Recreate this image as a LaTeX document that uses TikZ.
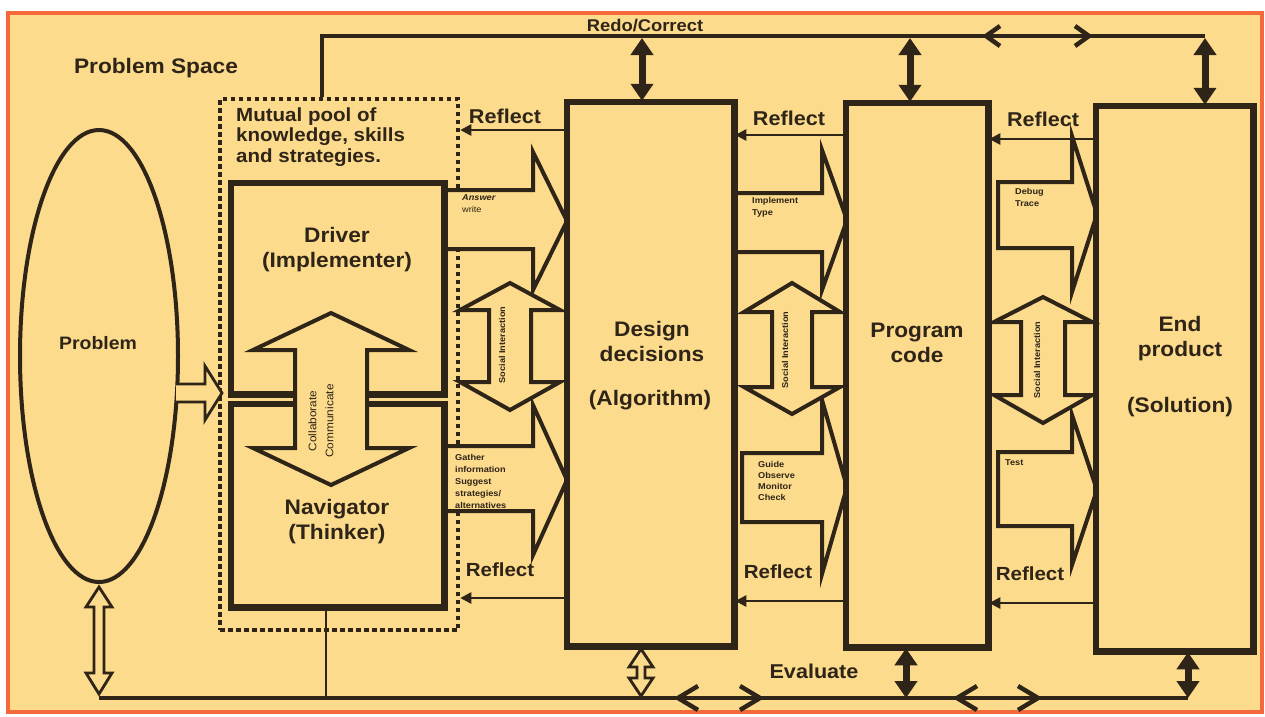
\documentclass[tikz,border=0pt]{standalone}
\usepackage{fontspec}
\setmainfont{Liberation Sans}[FakeStretch=1.08]
\usetikzlibrary{shapes.geometric,arrows.meta}
\definecolor{bg}{RGB}{252,219,140}
\definecolor{frame}{RGB}{244,104,60}
\definecolor{ink}{RGB}{46,36,24}
\begin{document}
\begin{tikzpicture}[x=1pt,y=-1pt,
  box/.style={draw=ink, line width=4.5pt, rectangle, inner sep=0pt},
  blk/.style={draw=ink, fill=bg, line width=4pt, line join=miter},
  hol/.style={draw=ink, fill=bg, line width=2.8pt, line join=miter},
  refl/.style={draw=ink, line width=2.5pt, -{Triangle[width=11pt,length=11pt]}},
  boldtwo/.style={draw=ink, line width=7pt, {Triangle[width=22pt,length=17pt]}-{Triangle[width=22pt,length=17pt]}},
  conn/.style={draw=ink, line width=4pt},
  chev/.style={draw=ink, line width=4.5pt, line join=miter},
  big/.style={text=ink, font=\bfseries\fontsize{21}{25}\selectfont, align=center, inner sep=0pt},
  refltxt/.style={text=ink, font=\bfseries\fontsize{20}{24}\selectfont, inner sep=0pt},
  small/.style={text=ink, font=\bfseries\fontsize{8.5}{12}\selectfont, align=left, inner sep=0pt, anchor=west},
  soc/.style={text=ink, font=\bfseries\fontsize{8.5}{10}\selectfont, rotate=90, inner sep=0pt},
]
\useasboundingbox (0,0) rectangle (1265,716);
\fill[white] (0,0) rectangle (1265,716);
\draw[frame, fill=bg, line width=4pt] (8,13) rectangle (1262,712);

% dotted pool
\node[draw=ink, line width=4.5pt, dash pattern=on 4.5pt off 3.5pt, minimum width=238pt, minimum height=531pt, inner sep=0pt] (pool) at (339,364.5) {};

% main boxes (positions)
\node[box, minimum width=211pt, minimum height=209pt] (driver) at (337.5,288.5) {};
\node[box, minimum width=211pt, minimum height=201pt] (navigator) at (337.5,505.5) {};
\node[box, minimum width=165pt, minimum height=542pt] (design) at (650.5,374) {};
\node[box, minimum width=140pt, minimum height=542pt] (program) at (917,375) {};
\node[box, minimum width=155pt, minimum height=543pt] (endp) at (1174.5,378.5) {};
\node[draw=ink, line width=4pt, ellipse, minimum width=158pt, minimum height=452pt, inner sep=0pt] (problem) at (99,356) {};

% top connector
\coordinate (tl) at (322,36);
\coordinate (tr) at (1205,36);
\draw[conn] (pool.north -| tl) -- (tl) -- (tr);
\coordinate (ta1) at (642,38);
\coordinate (ta2) at (910,38);
\coordinate (ta3) at (1205,38);
\draw[boldtwo] (ta1) -- (design.north -| ta1);
\draw[boldtwo] (ta2) -- (program.north -| ta2);
\draw[boldtwo] (ta3) -- (endp.north -| ta3);
\draw[chev] (1000,26) -- (986,36) -- (1000,46);
\draw[chev] (1075,26) -- (1089,36) -- (1075,46);

% block arrows
\draw[blk] (driver.east |- 0,190) -- (533,190) -- (533,152) -- (567,221) -- (533,290) -- (533,249) -- (driver.east |- 0,249);
\draw[blk] (navigator.east |- 0,446) -- (533,446) -- (533,405) -- (567,480) -- (533,555) -- (533,511) -- (navigator.east |- 0,511);
\draw[blk] (design.east |- 0,193) -- (822,193) -- (822,150) -- (847,220) -- (822,290) -- (822,252) -- (design.east |- 0,252);
\draw[blk] (742,453) -- (822,453) -- (822,400) -- (847,487) -- (822,574) -- (822,522) -- (742,522) -- cycle;
\draw[blk] (998,182) -- (1072,182) -- (1072,136) -- (1097,214) -- (1072,292) -- (1072,248) -- (998,248) -- cycle;
\draw[blk] (998,452) -- (1072,452) -- (1072,415) -- (1097,490) -- (1072,565) -- (1072,526) -- (998,526) -- cycle;
% problem arrow
\draw[hol] (176,384) -- (205,384) -- (205,366) -- (222,393) -- (205,420) -- (205,402) -- (176,402);

% redraw box outlines on top
\draw[box] (driver.south west) rectangle (driver.north east);
\draw[box] (navigator.south west) rectangle (navigator.north east);
\draw[box] (design.south west) rectangle (design.north east);
\draw[box] (program.south west) rectangle (program.north east);
\draw[box] (endp.south west) rectangle (endp.north east);

% collaborate double arrow
\draw[blk] (331,313) -- (409,350) -- (367,350) -- (367,448) -- (409,448) -- (331,485) -- (253,448) -- (295,448) -- (295,350) -- (253,350) -- cycle;
% social interaction arrows
\draw[blk] (510,283) -- (560,310) -- (531,310) -- (531,382) -- (560,382) -- (510,410) -- (460,382) -- (489,382) -- (489,310) -- (460,310) -- cycle;
\draw[blk] (792,283) -- (840,312) -- (812,312) -- (812,387) -- (840,387) -- (792,414) -- (744,387) -- (772,387) -- (772,312) -- (744,312) -- cycle;
\draw[blk] (1043,297) -- (1092,322) -- (1065,322) -- (1065,395) -- (1092,395) -- (1043,423) -- (994,395) -- (1021,395) -- (1021,322) -- (994,322) -- cycle;

% reflect arrows
\draw[refl] (design.west |- 0,130) -- (pool.east |- 0,130);
\draw[refl] (program.west |- 0,135) -- (design.east |- 0,135);
\draw[refl] (endp.west |- 0,139) -- (program.east |- 0,139);
\draw[refl] (design.west |- 0,598) -- (pool.east |- 0,598);
\draw[refl] (program.west |- 0,601) -- (design.east |- 0,601);
\draw[refl] (endp.west |- 0,603) -- (program.east |- 0,603);

% bottom connector
\coordinate (bl) at (99,698);
\coordinate (br) at (1188,698);
\coordinate (bn) at (326,698);
\coordinate (b3) at (906,698);
\coordinate (b4) at (1188,698);
\draw[conn] (bl) -- (br);
\draw[draw=ink, line width=2.8pt] (navigator.south -| bn) -- (bn);
\draw[hol] (99,587) -- (112,607) -- (104,607) -- (104,673) -- (112,673) -- (99,694) -- (86,673) -- (94,673) -- (94,607) -- (86,607) -- cycle;
\draw[hol] (641,649) -- (653,667) -- (645,667) -- (645,678) -- (653,678) -- (641,696) -- (629,678) -- (637,678) -- (637,667) -- (629,667) -- cycle;
\draw[boldtwo] (program.south -| b3) -- (b3);
\draw[boldtwo] (endp.south -| b4) -- (b4);
\draw[chev] (698,686) -- (678,698) -- (698,710);
\draw[chev] (740,686) -- (760,698) -- (740,710);
\draw[chev] (977,686) -- (957,698) -- (977,710);
\draw[chev] (1018,686) -- (1038,698) -- (1018,710);

% texts
\node[text=ink, font=\bfseries\fontsize{21}{25}\selectfont, inner sep=0pt] (tps) at (156,68) {Problem Space};
\node[text=ink, font=\bfseries\fontsize{19}{20.5}\selectfont, align=left, anchor=west, inner sep=0pt] (tpool) at (236,137) {Mutual pool of\\knowledge, skills\\and strategies.};
\node[text=ink, font=\bfseries\fontsize{18}{22}\selectfont, inner sep=0pt] (tprob) at (98,343) {Problem};
\node[big] (tdrv) at (337,249.5) {Driver\\(Implementer)};
\node[big] (tnav) at (337,522) {Navigator\\(Thinker)};
\node[big] (tdes) at (652,341) {Design\\decisions};
\node[big] (talg) at (650,400) {(Algorithm)};
\node[big] (tprog) at (917,343) {Program\\code};
\node[big] (tend) at (1180,339) {End\\product};
\node[big] (tsol) at (1180,407) {(Solution)};
\node[refltxt] (rf1) at (505,116) {Reflect};
\node[refltxt] (rf2) at (789,118) {Reflect};
\node[refltxt] (rf3) at (1043,119) {Reflect};
\node[refltxt, font=\bfseries\fontsize{19}{22}\selectfont] (rf4) at (500,570) {Reflect};
\node[refltxt, font=\bfseries\fontsize{19}{22}\selectfont] (rf5) at (778,572) {Reflect};
\node[refltxt, font=\bfseries\fontsize{19}{22}\selectfont] (rf6) at (1030,574) {Reflect};
\node[text=ink, font=\bfseries\fontsize{17}{20}\selectfont, inner sep=0pt] (tredo) at (645,26) {Redo/Correct};
\node[text=ink, font=\bfseries\fontsize{20}{24}\selectfont, inner sep=0pt] (teval) at (814,671) {Evaluate};

\node[small] (tans) at (462,204) {\textit{Answer}\\\mdseries write};
\node[small] (tgat) at (455,481) {Gather\\information\\Suggest\\strategies/\\alternatives};
\node[small] (timp) at (752,207) {Implement\\Type};
\node[small, font=\bfseries\fontsize{8.5}{11}\selectfont] (tgui) at (758,480.5) {Guide\\Observe\\Monitor\\Check};
\node[small] (tdbg) at (1015,197.5) {Debug\\Trace};
\node[small] (ttst) at (1005,463) {Test};

\node[soc] (ts1) at (502,345) {Social Interaction};
\node[soc] (ts2) at (785,350) {Social Interaction};
\node[soc] (ts3) at (1037,360) {Social Interaction};
\node[text=ink, font=\fontsize{11}{17}\selectfont, rotate=90, align=center, inner sep=0pt] (tcol) at (321,421) {Collaborate\\Communicate};
\end{tikzpicture}
\end{document}
